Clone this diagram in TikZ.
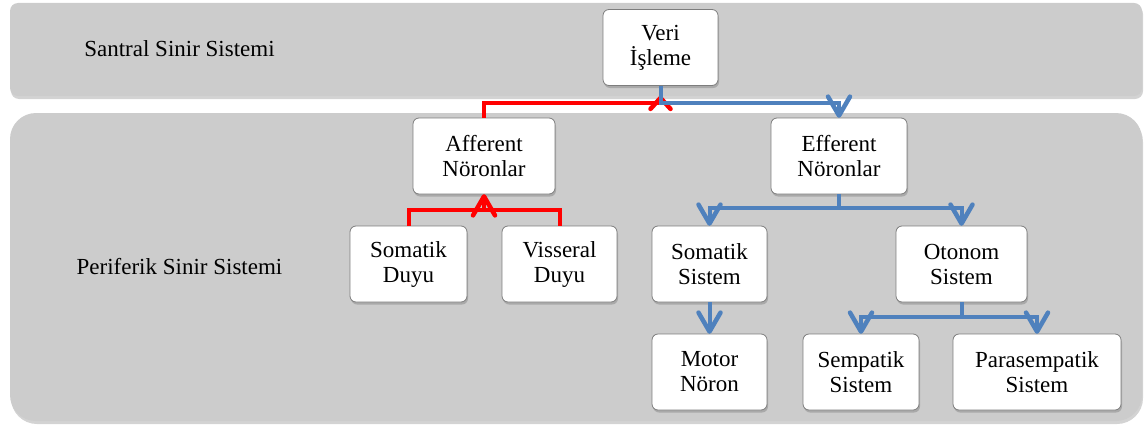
\documentclass[tikz,border=0pt]{standalone}
\usepackage{fontspec}
\setmainfont{Liberation Serif}
\usetikzlibrary{arrows.meta,shadows,calc}
\definecolor{bandgray}{RGB}{204,204,204}
\definecolor{boxborder}{RGB}{125,125,125}
\definecolor{flowblue}{RGB}{79,129,189}
\definecolor{flowred}{RGB}{255,0,0}
\pgfdeclarearrow{
  name = VBarb,
  parameters = {\the\pgfarrowlength,\the\pgfarrowwidth,\the\pgfarrowlinewidth},
  setup code = {
    \pgfarrowssettipend{1pt}
    \pgfarrowssetlineend{-2pt}
    \pgfarrowssetbackend{-\pgfarrowlength}
    \pgfarrowshullpoint{1pt}{0pt}
    \pgfarrowshullpoint{-\pgfarrowlength}{.5\pgfarrowwidth}
    \pgfarrowshullpoint{-\pgfarrowlength}{-.5\pgfarrowwidth}
    \pgfarrowssavethe\pgfarrowlength
    \pgfarrowssavethe\pgfarrowwidth
    \pgfarrowssavethe\pgfarrowlinewidth
  },
  drawing code = {
    \pgfsetdash{}{+0pt}
    \pgfsetlinewidth{\pgfarrowlinewidth}
    \pgfsetroundjoin
    \pgfsetroundcap
    \pgfpathmoveto{\pgfqpoint{-\pgfarrowlength}{.5\pgfarrowwidth}}
    \pgfpathlineto{\pgfqpoint{-1pt}{0pt}}
    \pgfpathlineto{\pgfqpoint{-\pgfarrowlength}{-.5\pgfarrowwidth}}
    \pgfusepathqstroke
  },
  defaults = {length=20pt, width=22pt}
}
\tikzset{
  band/.style={fill=bandgray, draw=none, drop shadow={shadow xshift=1pt, shadow yshift=-3pt, opacity=0.35}},
  bandlabel/.style={font=\fontsize{23}{26}\selectfont, inner sep=0pt},
  box/.style={draw=boxborder, line width=0.8pt, fill=white, rounded corners=6pt,
    minimum height=76pt, inner sep=2pt, align=center,
    font=\fontsize{23}{25}\selectfont,
    drop shadow={shadow xshift=1pt, shadow yshift=-2.5pt, opacity=0.45}},
  redline/.style={draw=flowred, line width=4pt, line join=miter},
  blueline/.style={draw=flowblue, line width=4pt, line join=miter},
  tip/.style={-{VBarb[length=20pt,width=22pt,line width=4.5pt]}},
  shorttip/.style={-{VBarb[length=12pt,width=20pt,line width=4.5pt]}},
}
\begin{document}
\begin{tikzpicture}[x=1pt,y=-1pt]
\useasboundingbox (0,0) rectangle (1147,428);
% bands
\path[band, rounded corners=8pt] (10,3) rectangle (1142,96);
\path[band, rounded corners=26pt] (10,113) rectangle (1142,421);
\node[bandlabel] (ssslabel) at (179.5,49) {Santral Sinir Sistemi};
\node[bandlabel] (psslabel) at (179.5,267) {Periferik Sinir Sistemi};
% boxes
\node[box, minimum width=115pt] (veri)  at (660.5,47.5) {Veri\\İşleme};
\node[box, minimum width=142pt] (aff)   at (484,156)   {Afferent\\Nöronlar};
\node[box, minimum width=136pt] (eff)   at (839,156)   {Efferent\\Nöronlar};
\node[box, minimum width=117pt] (sduyu) at (408.5,264) {Somatik\\Duyu};
\node[box, minimum width=115pt] (vduyu) at (559.5,264) {Visseral\\Duyu};
\node[box, minimum width=115pt] (ssis)  at (709.5,264) {Somatik\\Sistem};
\node[box, minimum width=131pt] (oto)   at (961.5,264) {Otonom\\Sistem};
\node[box, minimum width=115pt] (motor) at (709.5,372) {Motor\\Nöron};
\node[box, minimum width=116pt] (semp)  at (861,372)   {Sempatik\\Sistem};
\node[box, minimum width=168pt] (para)  at (1037,372)  {Parasempatik\\Sistem};
% junction coordinates
\coordinate (jtop) at ($(veri.south)+(0,17)$);
\coordinate (jtip) at ($(veri.south)+(0,10)$);
\coordinate (jduyu) at ($(aff.south)+(0,16)$);
\coordinate (jeff) at ($(eff.south)+(0,14)$);
\coordinate (joto) at ($(oto.south)+(0,15)$);
% red (afferent) connectors
\draw[redline] (sduyu.north) |- (jduyu) -| (vduyu.north);
\draw[redline, tip] (jduyu) -- (aff.south);
\draw[redline] (aff.north) |- (jtop);
\draw[redline, shorttip] (jtop) -- (jtip);
% blue (efferent) connectors
\draw[blueline, tip] (veri.south) |- (jtop) -| (eff.north);
\draw[blueline] (eff.south) -- (jeff);
\draw[blueline, tip] (jeff) -| (ssis.north);
\draw[blueline, tip] (jeff) -| (oto.north);
\draw[blueline, tip] (ssis.south) -- (motor.north);
\draw[blueline] (oto.south) -- (joto);
\draw[blueline, tip] (joto) -| (semp.north);
\draw[blueline, tip] (joto) -| (para.north);
\end{tikzpicture}
\end{document}
